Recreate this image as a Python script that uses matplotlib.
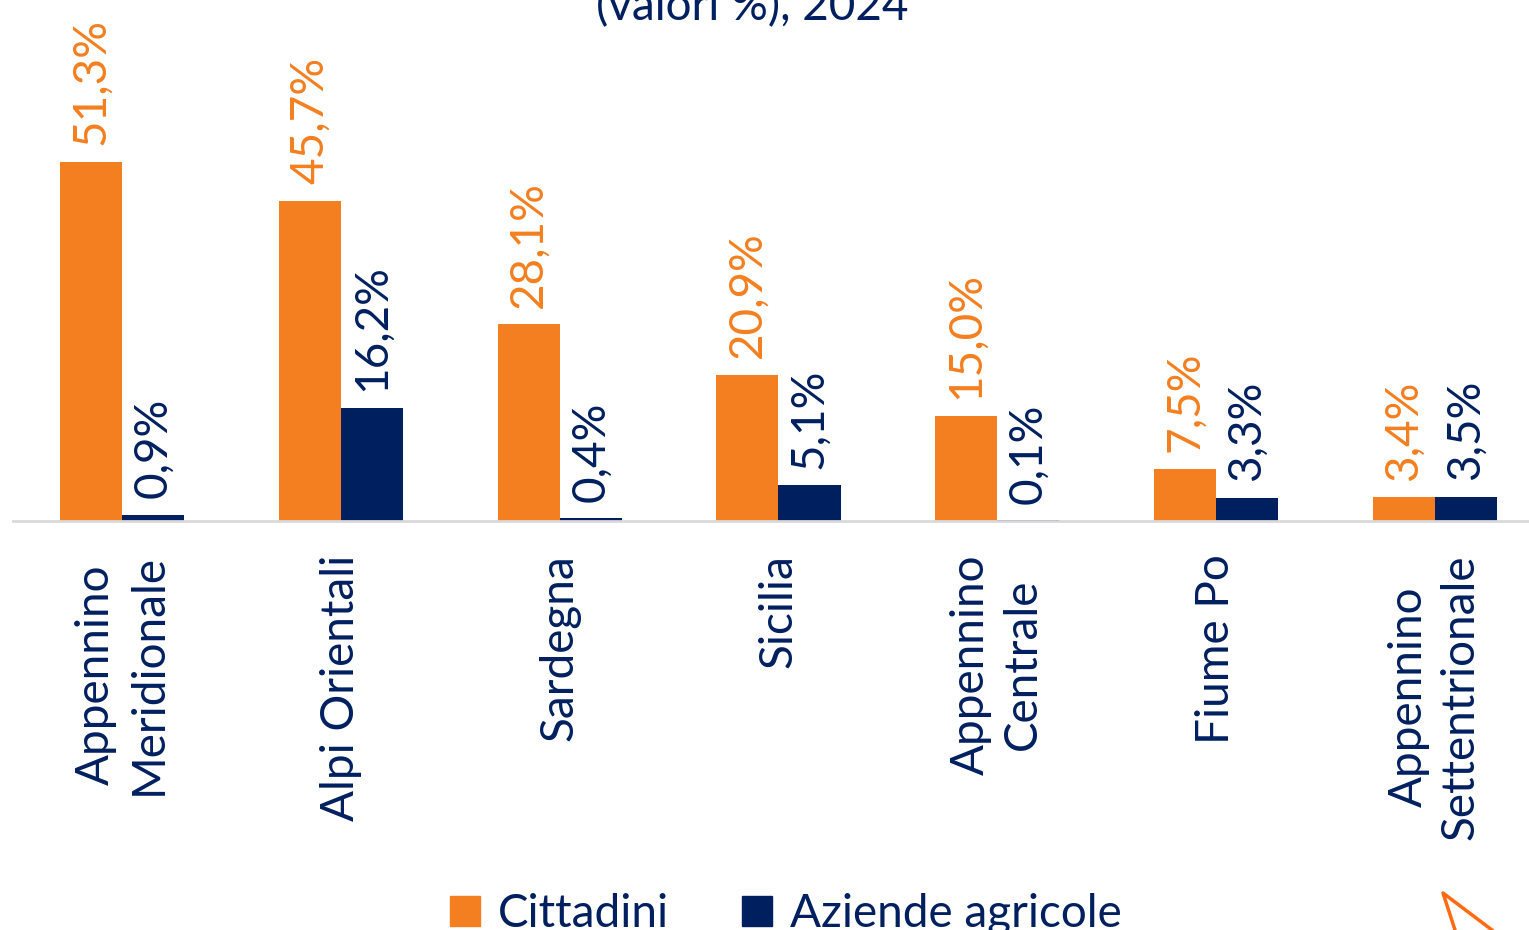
import matplotlib.pyplot as plt
import numpy as np
from matplotlib.lines import Line2D
from matplotlib.patches import Patch

# dati
categorie = ["Appennino\nMeridionale", "Alpi Orientali", "Sardegna", "Sicilia",
             "Appennino\nCentrale", "Fiume Po", "Appennino\nSettentrionale"]
cittadini = [51.3, 45.7, 28.1, 20.9, 15.0, 7.5, 3.4]
aziende = [0.9, 16.2, 0.4, 5.1, 0.1, 3.3, 3.5]
serie = ["Cittadini", "Aziende agricole"]

ARANCIO = '#F47F20'
BLU = '#001F5F'

plt.rcParams['font.family'] = ['Lato', 'DejaVu Sans']

fig = plt.figure(figsize=(15.29, 9.30), dpi=100)
# assi: baseline a y=521 px, 7 px per punto percentuale
W, H = 1529, 930
base = 521
top = base - 7.0 * 60
ax = fig.add_axes([13 / W, 1 - base / H, 1531 / W, (base - top) / H])
ax.set_xlim(-0.5, 6.5)
ax.set_ylim(0, 60)

x = np.arange(len(categorie))
bw = 0.284
ax.bar(x - bw / 2, cittadini, bw, color=ARANCIO)
ax.bar(x + bw / 2, aziende, bw, color=BLU)

fs = 33
for xi, v in zip(x - bw / 2, cittadini):
    ax.annotate(f"{v:.1f}%".replace('.', ','), (xi, v), xytext=(0, 12),
                textcoords='offset points', rotation=90, ha='center', va='bottom',
                fontsize=fs, color=ARANCIO)
for xi, v in zip(x + bw / 2, aziende):
    ax.annotate(f"{v:.1f}%".replace('.', ','), (xi, v), xytext=(0, 12),
                textcoords='offset points', rotation=90, ha='center', va='bottom',
                fontsize=fs, color=BLU)

# etichette categorie
for xi, c in zip(x, categorie):
    ax.annotate(c, (xi, 0), xytext=(0, -24), textcoords='offset points',
                rotation=90, ha='center', va='top', multialignment='center',
                fontsize=fs, color=BLU, linespacing=1.3)

for s in ['top', 'right', 'left']:
    ax.spines[s].set_visible(False)
ax.spines['bottom'].set_color('#D9D9D9')
ax.spines['bottom'].set_linewidth(2)
ax.set_xticks([])
ax.set_yticks([])

# titolo (tagliato in alto)
fig.text(752 / W, 1 - 20 / H, "(valori %), 2024", ha='center', va='baseline',
         fontsize=fs, color=BLU)

# legenda
handles = [Patch(color=ARANCIO), Patch(color=BLU)]
fig.legend(handles, serie, loc='lower center', bbox_to_anchor=(786 / W, -0.05),
           ncol=2, frameon=False, fontsize=fs, labelcolor=BLU,
           handlelength=0.65, handleheight=0.65, handletextpad=0.4, columnspacing=1.6)

# frammento logo in basso a destra
fig.add_artist(Line2D([1455 / W, 1443 / W, 1492 / W], [0, 1 - 893 / H, 0],
                      transform=fig.transFigure, color='#FF6A13', lw=2.5))

fig.savefig('out.png', dpi=100)
